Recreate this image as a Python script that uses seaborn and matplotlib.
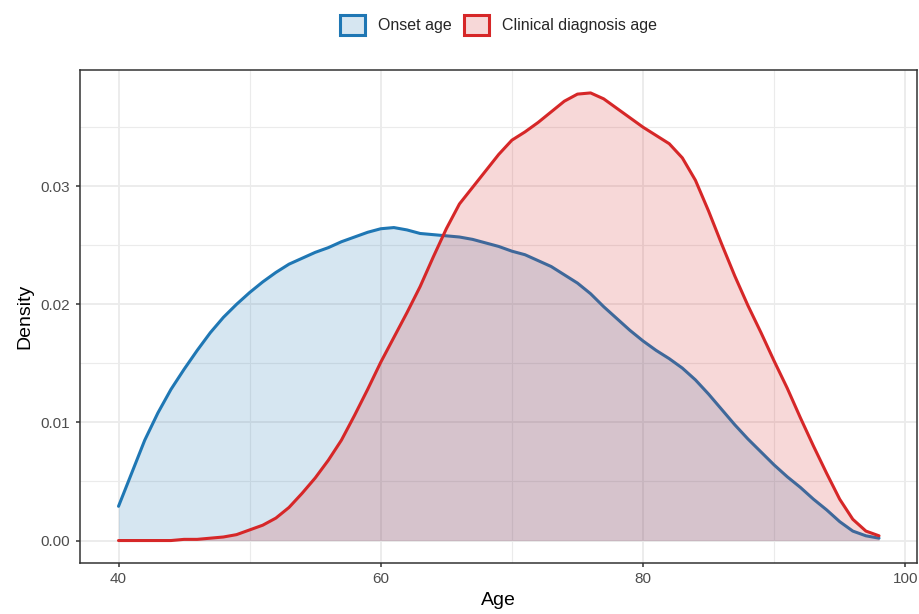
import matplotlib
matplotlib.use("Agg")
import matplotlib.pyplot as plt
from matplotlib.patches import Patch
from matplotlib.colors import to_rgba
from matplotlib.ticker import FixedLocator, FuncFormatter
import pandas as pd
import seaborn as sns

# Kernel density estimates of patient ages, evaluated on a 1-year grid
age = list(range(40, 99))
onset_density = [
    0.0029, 0.0057, 0.0085, 0.0108, 0.0128, 0.0145, 0.0161, 0.0176, 0.0189, 0.0200,
    0.0210, 0.0219, 0.0227, 0.0234, 0.0239, 0.0244, 0.0248, 0.0253, 0.0257, 0.0261,
    0.0264, 0.0265, 0.0263, 0.0260, 0.0259, 0.0258, 0.0257, 0.0255, 0.0252, 0.0249,
    0.0245, 0.0242, 0.0237, 0.0232, 0.0225, 0.0218, 0.0209, 0.0198, 0.0188, 0.0178,
    0.0169, 0.0161, 0.0154, 0.0146, 0.0136, 0.0124, 0.0111, 0.0098, 0.0086, 0.0075,
    0.0064, 0.0054, 0.0045, 0.0035, 0.0026, 0.0016, 0.0008, 0.0004, 0.0002,
]
diagnosis_density = [
    0.0000, 0.0000, 0.0000, 0.0000, 0.0000, 0.0001, 0.0001, 0.0002, 0.0003, 0.0005,
    0.0009, 0.0013, 0.0019, 0.0028, 0.0040, 0.0053, 0.0068, 0.0085, 0.0106, 0.0128,
    0.0151, 0.0172, 0.0193, 0.0215, 0.0240, 0.0264, 0.0285, 0.0299, 0.0313, 0.0327,
    0.0339, 0.0346, 0.0354, 0.0363, 0.0372, 0.0378, 0.0379, 0.0374, 0.0366, 0.0358,
    0.0350, 0.0343, 0.0336, 0.0324, 0.0305, 0.0279, 0.0251, 0.0224, 0.0199, 0.0176,
    0.0152, 0.0129, 0.0104, 0.0080, 0.0057, 0.0035, 0.0018, 0.0008, 0.0004,
]
series_labels = ["Onset age", "Clinical diagnosis age"]
series_colors = ["#1F77B4", "#D62728"]

x_ticks = [40, 60, 80, 100]
y_ticks = [0.00, 0.01, 0.02, 0.03]
x_minor = [50, 70, 90]
y_minor = [0.005, 0.015, 0.025, 0.035]

df = pd.concat([
    pd.DataFrame({"Age": age, "Density": onset_density, "group": series_labels[0]}),
    pd.DataFrame({"Age": age, "Density": diagnosis_density, "group": series_labels[1]}),
])

sns.set_theme(style="white")
plt.rcParams["font.family"] = ["Liberation Sans", "DejaVu Sans"]

fig = plt.figure(figsize=(9.2, 6.14), dpi=100)
ax = fig.add_axes([0.0875, 0.0831, 0.9093, 0.8021])

# each group: translucent area first, then its outline, stacked in order
for i, (label, color) in enumerate(zip(series_labels, series_colors)):
    sub = df[df["group"] == label]
    ax.fill_between(sub["Age"], sub["Density"], 0, color=color, alpha=0.18,
                    linewidth=0, zorder=2 + 2 * i)
    sns.lineplot(data=sub, x="Age", y="Density", color=color, linewidth=2.2,
                 ax=ax, zorder=3 + 2 * i, legend=False)
for line in ax.lines:
    line.set_solid_joinstyle("round")

ax.set_xlim(37.1, 100.9)
ax.set_ylim(-0.0019, 0.0398)
ax.xaxis.set_major_locator(FixedLocator(x_ticks))
ax.yaxis.set_major_locator(FixedLocator(y_ticks))
ax.xaxis.set_minor_locator(FixedLocator(x_minor))
ax.yaxis.set_minor_locator(FixedLocator(y_minor))
ax.yaxis.set_major_formatter(FuncFormatter(lambda v, p: f"{v:.2f}"))
ax.xaxis.set_major_formatter(FuncFormatter(lambda v, p: f"{v:g}"))

ax.set_axisbelow(True)
ax.grid(which="major", color="#EBEBEB", linewidth=1.3)
ax.grid(which="minor", color="#EBEBEB", linewidth=0.8)
for s in ax.spines.values():
    s.set_visible(True)
    s.set_color("#333333")
    s.set_linewidth(1.1)

ax.tick_params(which="major", length=2.9, width=1.1, color="#333333",
               labelsize=11, labelcolor="#4D4D4D", bottom=True, left=True)
ax.tick_params(axis="x", which="major", pad=3.5)
ax.tick_params(axis="y", which="major", pad=5)
ax.tick_params(which="minor", length=0)

ax.set_xlabel("Age", fontsize=14, color="black", labelpad=4.5)
ax.set_ylabel("Density", fontsize=14, color="black", labelpad=5)

handles = [Patch(facecolor=to_rgba(c, 0.18), edgecolor=c, linewidth=2.2)
           for c in series_colors]
fig.legend(handles, series_labels, loc="center", bbox_to_anchor=(0.542, 0.959),
           ncol=2, frameon=False, fontsize=11.5, handlelength=1.55,
           handleheight=1.55, handletextpad=0.8, columnspacing=0.8)

fig.savefig("out.png", dpi=100)
